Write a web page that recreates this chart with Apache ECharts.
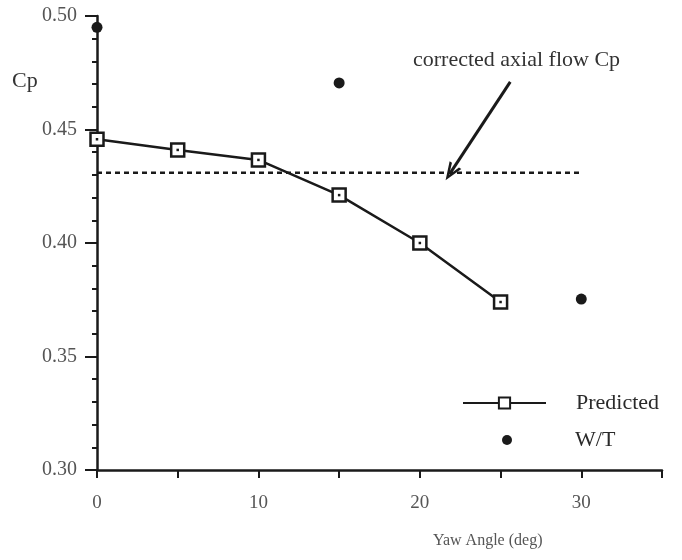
<!DOCTYPE html>
<html>
<head>
<meta charset="utf-8">
<script src="https://cdn.jsdelivr.net/npm/echarts@6/dist/echarts.min.js"></script>
<style>
  html, body { margin: 0; padding: 0; background: #fff; }
  #chart { width: 682px; height: 560px; }
</style>
</head>
<body>
<div id="chart"></div>
<script>
// yaw angle (deg) for predicted curve
var predYaw = [0, 5, 10, 15, 20, 25];
var predCp = [0.4457, 0.441, 0.4366, 0.4211, 0.400, 0.374];

// wind tunnel measurements
var wtYaw = [0, 15, 30];
var wtCp = [0.495, 0.4705, 0.3753];

// corrected axial flow Cp (dotted reference)
var refYaw = [0, 30];
var refCp = [0.431, 0.431];

// arrow pointing at the reference line
var arrowFrom = [25.6, 0.471];
var arrowTo = [21.9, 0.431];

var xTicks = [0, 10, 20, 30];
var yTicks = [0.30, 0.35, 0.40, 0.45, 0.50];

var font = 'Liberation Serif';
var ink = '#1a1a1a';

function pairs(xs, ys) {
    var out = [];
    for (var i = 0; i < xs.length; i++) out.push([xs[i], ys[i]]);
    return out;
}

var myChart = echarts.init(document.getElementById('chart'));

var option = {
    backgroundColor: '#fff',
    animation: false,
    textStyle: { fontFamily: font, color: ink },
    grid: { left: 97, right: 20, top: 16, bottom: 90 },
    legend: [
        {
            left: 457, top: 387,
            itemWidth: 83, itemHeight: 14,
            textStyle: { fontFamily: font, fontSize: 22, color: '#2a2a2a', padding: [0, 0, 0, 25] },
            data: ['Predicted']
        },
        {
            left: 497, top: 424,
            itemWidth: 10, itemHeight: 10,
            textStyle: { fontFamily: font, fontSize: 22, color: '#2a2a2a', padding: [0, 0, 0, 58] },
            data: ['W/T']
        }
    ],
    xAxis: {
        type: 'value',
        min: 0,
        max: 35,
        interval: 5,
        splitLine: { show: false },
        axisLine: { onZero: false, lineStyle: { color: ink, width: 2.5 } },
        axisTick: { length: 8, lineStyle: { color: ink, width: 2 } },
        axisLabel: {
            fontFamily: font, fontSize: 19, color: '#555', margin: 24,
            formatter: function (v) { return xTicks.indexOf(v) >= 0 ? String(v) : ''; }
        }
    },
    yAxis: {
        type: 'value',
        min: 0.30,
        max: 0.50,
        interval: 0.05,
        splitLine: { show: false },
        axisLine: { onZero: false, lineStyle: { color: ink, width: 2.5 } },
        axisTick: { length: 12, lineStyle: { color: ink, width: 2 } },
        minorTick: { show: true, splitNumber: 5, length: 5, lineStyle: { color: ink, width: 2 } },
        axisLabel: {
            fontFamily: font, fontSize: 20, color: '#555', margin: 20,
            formatter: function (v) {
                for (var i = 0; i < yTicks.length; i++)
                    if (Math.abs(yTicks[i] - v) < 1e-6) return yTicks[i].toFixed(2);
                return '';
            }
        }
    },
    series: [
        {
            name: 'corrected',
            type: 'line',
            data: pairs(refYaw, refCp),
            symbol: 'none',
            lineStyle: { color: ink, width: 2.5, type: [5, 4] },
            z: 1,
            markLine: {
                silent: true,
                symbol: ['none', 'path://M5,0 L10,11 L8,11 L5,4 L2,11 L0,11 Z'],
                symbolSize: [14, 18],
                label: { show: false },
                lineStyle: { color: ink, width: 3, type: 'solid' },
                data: [[{ coord: arrowFrom }, { coord: arrowTo }]]
            }
        },
        {
            name: 'Predicted',
            type: 'line',
            data: pairs(predYaw, predCp),
            symbol: 'rect',
            symbolSize: 13,
            itemStyle: { color: '#fff', borderColor: ink, borderWidth: 2.5 },
            lineStyle: { color: ink, width: 2.5 },
            z: 3
        },
        {
            name: 'PredictedDot',
            type: 'scatter',
            data: pairs(predYaw, predCp),
            symbol: 'rect',
            symbolSize: 2.5,
            itemStyle: { color: ink, opacity: 1 },
            z: 4
        },
        {
            name: 'W/T',
            type: 'scatter',
            data: pairs(wtYaw, wtCp),
            symbol: 'circle',
            symbolSize: 11,
            itemStyle: { color: ink, opacity: 1 },
            z: 4
        }
    ],
    graphic: [
        {
            type: 'text', left: 12, top: 70,
            style: { text: 'Cp', fontFamily: font, fontSize: 22, fill: '#333' }
        },
        {
            type: 'text', left: 413, top: 49,
            style: { text: 'corrected axial flow Cp', fontFamily: font, fontSize: 22, fill: '#333' }
        },
        {
            type: 'text', left: 433, top: 533,
            style: { text: 'Yaw Angle (deg)', fontFamily: font, fontSize: 16, fill: '#555' }
        }
    ]
};

myChart.setOption(option);
</script>
</body>
</html>
